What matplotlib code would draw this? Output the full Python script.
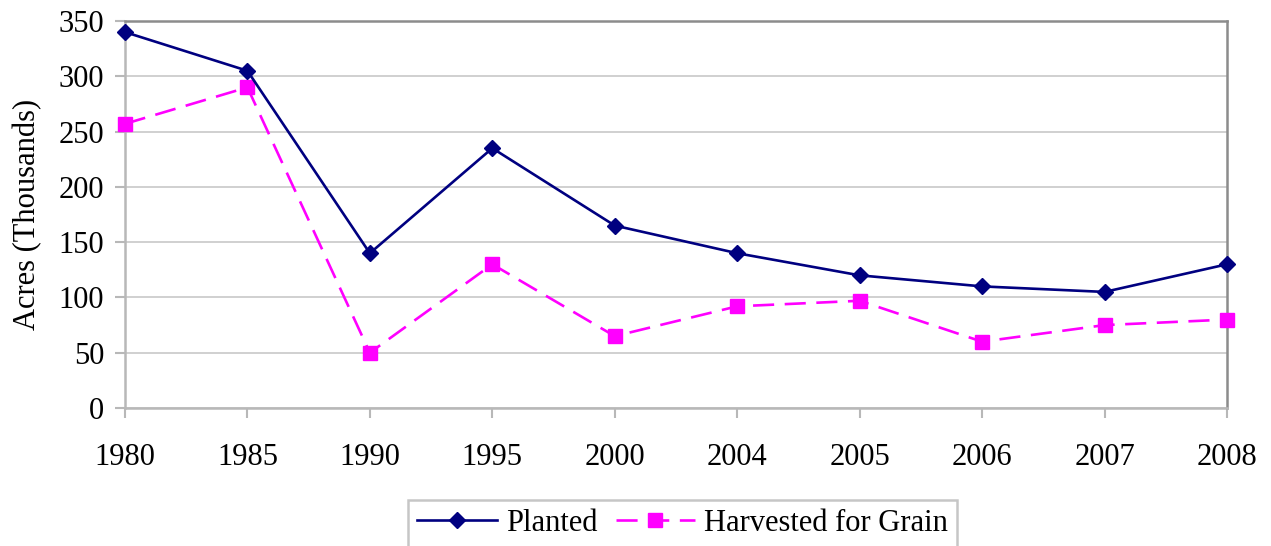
import matplotlib
matplotlib.use('Agg')
import matplotlib.pyplot as plt
import numpy as np

years = ['1980', '1985', '1990', '1995', '2000', '2004', '2005', '2006', '2007', '2008']
planted = [340, 305, 140, 235, 165, 140, 120, 110, 105, 130]
harvested = [257, 290, 50, 130, 65, 92, 97, 60, 75, 80]

plt.rcParams['font.family'] = ['Liberation Serif', 'DejaVu Serif']

fig = plt.figure(figsize=(12.71, 5.46), dpi=100)
ax = fig.add_axes([0.0983, 0.2527, 0.8671, 0.7088])

x = np.arange(len(years))
ax.plot(x, planted, color='#000080', lw=1.9, marker='D', ms=7.8,
        label='Planted', clip_on=False, zorder=4)
ax.plot(x, harvested, color='#FF00FF', lw=1.9, marker='s', ms=9.5,
        dashes=(8, 4), label='Harvested for Grain', clip_on=False, zorder=3)

ax.set_xlim(0, len(years) - 1)
ax.set_ylim(0, 350)
ax.set_yticks(np.arange(0, 351, 50))
ax.set_xticks(x)
ax.set_xticklabels(years)
ax.tick_params(labelsize=22, length=7, width=1.5, color='#b8b8b8')
ax.tick_params(axis='x', pad=18)
ax.tick_params(axis='y', pad=8)
ax.set_ylabel('Acres (Thousands)', fontsize=22, labelpad=12)

ax.grid(axis='y', color='#c8c8c8', lw=1.2)
ax.set_axisbelow(True)
for side in ['left', 'bottom']:
    ax.spines[side].set_color('#b8b8b8')
    ax.spines[side].set_linewidth(1.8)
for side in ['top', 'right']:
    ax.spines[side].set_color('#8c8c8c')
    ax.spines[side].set_linewidth(1.8)

leg = fig.legend(loc='upper center', bbox_to_anchor=(0.537, 0.085), ncol=2,
                 fontsize=22, frameon=True, fancybox=False, edgecolor='#b8b8b8',
                 handlelength=2.6, handletextpad=0.3, columnspacing=0.6,
                 borderpad=0.3, borderaxespad=0)
leg.get_frame().set_linewidth(1.8)

fig.savefig('out.png', dpi=100)
